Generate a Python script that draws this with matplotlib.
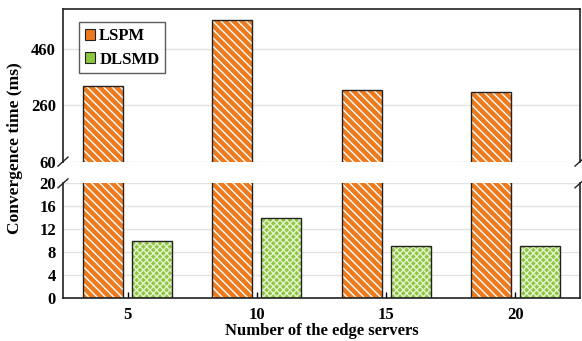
import matplotlib.pyplot as plt
import numpy as np
from matplotlib.patches import Patch

plt.rcParams['font.family'] = ['Liberation Serif', 'DejaVu Serif']
plt.rcParams['font.weight'] = 'bold'
plt.rcParams['axes.labelweight'] = 'bold'
plt.rcParams['hatch.linewidth'] = 1.0

# data
servers = ['5', '10', '15', '20']
lspm = [326, 560, 313, 306]
dlsmd = [10, 14, 9, 9]

orange = '#EE7A1E'
green = '#8DC63F'
W, H = 582, 341

fig = plt.figure(figsize=(W / 100, H / 100), dpi=100)
ax_top = fig.add_axes([63 / W, (H - 161.6) / H, 517 / W, 152.6 / H])
ax_bot = fig.add_axes([63 / W, (H - 297.7) / H, 517 / W, 114.4 / H])

x = np.arange(1, len(servers) + 1)
w = 0.31
off = 0.035 + w / 2


def hatched_bars(ax, xs, vals, color, hatch, hcolor):
    ax.bar(xs, vals, w, color=color, edgecolor=hcolor, hatch=hatch, linewidth=0, zorder=2)
    ax.bar(xs, vals, w, fill=False, edgecolor='#222222', linewidth=1.0, zorder=3)


for ax in (ax_top, ax_bot):
    hatched_bars(ax, x - off, lspm, orange, '\\\\\\\\', 'white')
    hatched_bars(ax, x + off, dlsmd, green, 'xxxxx', '#E4F2CF')
    ax.set_xlim(0.5, 4.5)
    ax.yaxis.grid(True, color='#E2E2E2', linewidth=1.0, zorder=0)
    ax.set_axisbelow(True)
    ax.tick_params(axis='y', length=0, labelsize=12, pad=5)
    for s in ax.spines.values():
        s.set_color('#222222')
        s.set_linewidth(1.2)

ax_top.set_ylim(60, 600)
ax_top.set_yticks([60, 260, 460])
ax_top.spines['bottom'].set_visible(False)
ax_top.set_xticks([])

ax_bot.set_ylim(0, 20)
ax_bot.set_yticks(range(0, 21, 4))
ax_bot.spines['top'].set_visible(False)
ax_bot.set_xticks(x)
ax_bot.set_xticklabels(servers)
ax_bot.tick_params(axis='x', direction='in', length=4, width=1, labelsize=12, pad=7)
ax_bot.set_xlabel('Number of the edge servers', fontsize=12, labelpad=0)

fig.text(15 / W, (H - 148) / H, 'Convergence time (ms)', rotation=90,
         ha='center', va='center', fontsize=12.5, fontweight='bold')

# break marks on both sides
for ax, yb in ((ax_top, 0), (ax_bot, 1)):
    for xa in (0, 1):
        dx = 5.0 / 517
        dy = 4.5 / (ax.get_position().height * H)
        ax.plot([xa - dx, xa + dx], [yb - dy, yb + dy], transform=ax.transAxes,
                color='#222222', linewidth=1.0, clip_on=False)

handles = [Patch(facecolor=orange, edgecolor='#222222', linewidth=0.8),
           Patch(facecolor=green, edgecolor='#222222', linewidth=0.8)]
leg = ax_top.legend(handles, ['LSPM', 'DLSMD'], loc='upper left', bbox_to_anchor=(0.025, 0.935),
                    fontsize=12, frameon=True, fancybox=False, edgecolor='#333333',
                    handlelength=0.6, handleheight=0.6, handletextpad=0.25,
                    borderpad=0.35, labelspacing=0.45, borderaxespad=0.2)
leg.get_frame().set_linewidth(1.0)

fig.savefig('out.png', dpi=100)
